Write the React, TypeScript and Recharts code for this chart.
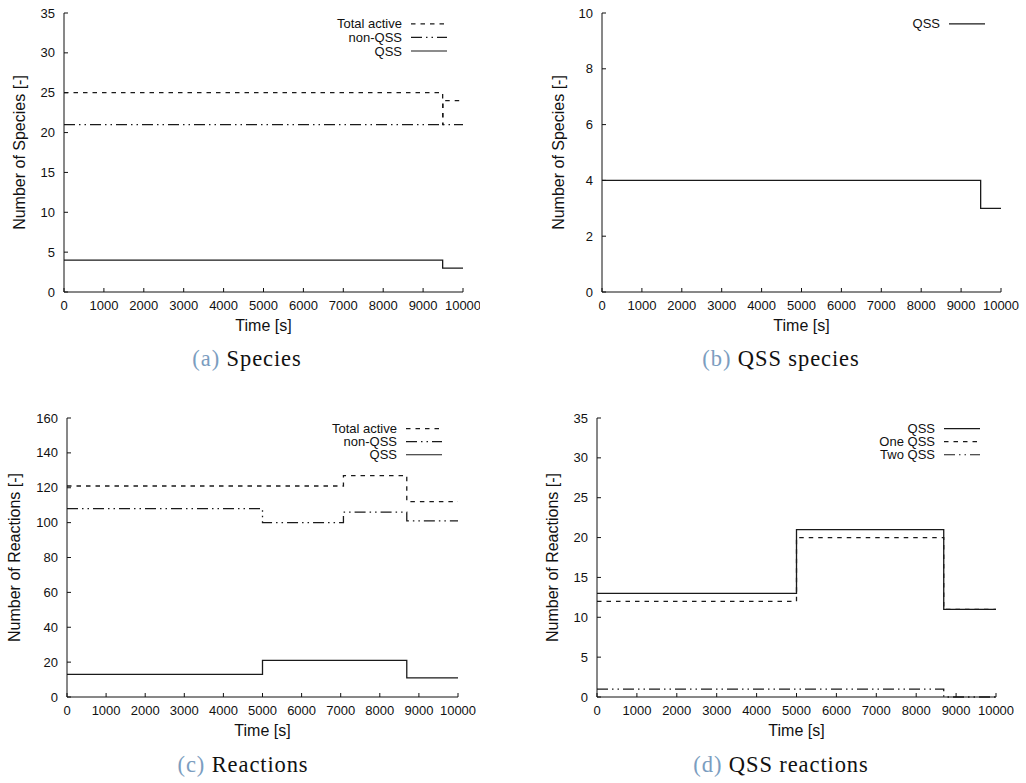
import React from 'react';
import { LineChart, Line, XAxis, YAxis, Legend } from 'recharts';

// ---------- data ----------
const timeTicks = [0, 1000, 2000, 3000, 4000, 5000, 6000, 7000, 8000, 9000, 10000];

// (a) Species
const speciesTime = [0, 9490, 9500, 10000];
const speciesTotal = [25, 21, 24, 24];
const speciesNonQss = [21, 21, 21, 21];
const speciesQss = [4, 3, 3, 3];
const speciesTicks = [0, 5, 10, 15, 20, 25, 30, 35];

// (b) QSS species
const qssSpeciesTime = [0, 9490, 10000];
const qssSpeciesQss = [4, 3, 3];
const qssSpeciesTicks = [0, 2, 4, 6, 8, 10];

// (c) Reactions
const reactionTime = [0, 5000, 7070, 8690, 10000];
const reactionTotal = [121, 121, 127, 112, 112];
const reactionNonQss = [108, 100, 106, 101, 101];
const reactionQss = [13, 21, 21, 11, 11];
const reactionTicks = [0, 20, 40, 60, 80, 100, 120, 140, 160];

// (d) QSS reactions
const qssReactionTime = [0, 5000, 8690, 10000];
const qssReactionQss = [13, 21, 11, 11];
const qssReactionOne = [12, 20, 11, 11];
const qssReactionTwo = [1, 1, 0, 0];
const qssReactionTicks = [0, 5, 10, 15, 20, 25, 30, 35];

// ---------- styling ----------
const FONT = '"Liberation Sans", Arial, Helvetica, sans-serif';
const SERIF = '"Liberation Serif", "Times New Roman", serif';
const INK = '#111';
const LINE = '#1a1a1a';
const DASHED = '4.5 5';
const DASH_DOT_DOT = '11 4 1.5 4 1.5 4';
const Y_W = 50;
const X_H = 45;
const TICK = -4;
const TICK_FS = 13;
const LEG_FS = 13;
const TITLE_FS = 16;

type SeriesDef = { key: string; name: string; dash?: string };

const table = (time: number[], cols: Record<string, number[]>) =>
  time.map((t, i) => {
    const row: Record<string, number> = { t };
    Object.keys(cols).forEach((k) => (row[k] = cols[k][i]));
    return row;
  });

const speciesData = table(speciesTime, { total: speciesTotal, nonqss: speciesNonQss, qss: speciesQss });
const qssSpeciesData = table(qssSpeciesTime, { qss: qssSpeciesQss });
const reactionData = table(reactionTime, { total: reactionTotal, nonqss: reactionNonQss, qss: reactionQss });
const qssReactionData = table(qssReactionTime, { qss: qssReactionQss, one: qssReactionOne, two: qssReactionTwo });

const speciesSeries: SeriesDef[] = [
  { key: 'total', name: 'Total active', dash: DASHED },
  { key: 'nonqss', name: 'non-QSS', dash: DASH_DOT_DOT },
  { key: 'qss', name: 'QSS' },
];
const qssSpeciesSeries: SeriesDef[] = [{ key: 'qss', name: 'QSS' }];
const reactionSeries: SeriesDef[] = speciesSeries;
const qssReactionSeries: SeriesDef[] = [
  { key: 'qss', name: 'QSS' },
  { key: 'one', name: 'One QSS', dash: DASHED },
  { key: 'two', name: 'Two QSS', dash: DASH_DOT_DOT },
];

type PanelProps = {
  left: number;
  top: number;
  width: number;
  height: number;
  plot: { l: number; t: number; r: number; b: number };
  data: Record<string, number>[];
  series: SeriesDef[];
  yDomain: [number, number];
  yTicks: number[];
  yTitle: string;
  yTitleDist: number;
  rowH: number;
};

const LEG_W = 150;

function Panel(p: PanelProps) {
  const { l, t, r, b } = p.plot;
  const margin = { top: t, left: l - Y_W, right: p.width - r, bottom: p.height - b - X_H };
  const tickStyle = { fontSize: TICK_FS, fill: INK, fontFamily: FONT };
  const legendContent = () => (
    <svg width={LEG_W} height={p.rowH * p.series.length} style={{ display: 'block', overflow: 'visible' }}>
      {p.series.map((s, i) => {
        const y = p.rowH / 2 + i * p.rowH;
        return (
          <g key={s.key}>
            <text x={LEG_W - 45} y={y} textAnchor="end" dominantBaseline="central" fontFamily={FONT} fontSize={LEG_FS} fill={INK}>
              {s.name}
            </text>
            <line x1={LEG_W - 36} x2={LEG_W} y1={y} y2={y} stroke={LINE} strokeWidth={1.2} strokeDasharray={s.dash} />
          </g>
        );
      })}
    </svg>
  );
  return (
    <div style={{ position: 'absolute', left: p.left, top: p.top, width: p.width, height: p.height, overflow: 'hidden' }}>
      <LineChart width={p.width} height={p.height} data={p.data} margin={margin}>
        <XAxis
          xAxisId="bottom"
          dataKey="t"
          type="number"
          domain={[0, 10000]}
          ticks={timeTicks}
          interval={0}
          height={X_H}
          tickSize={TICK}
          tickMargin={13}
          tick={tickStyle}
          axisLine={{ stroke: INK, strokeWidth: 1 }}
          tickLine={{ stroke: INK, strokeWidth: 1 }}
          label={(props: any) => {
            const vb = props.viewBox;
            return (
              <text x={vb.x + vb.width / 2} y={vb.y + 33} textAnchor="middle" dominantBaseline="central" fontFamily={FONT} fontSize={TITLE_FS} fill={INK}>
                Time [s]
              </text>
            );
          }}
        />
        <XAxis
          xAxisId="top"
          dataKey="t"
          type="number"
          orientation="top"
          domain={[0, 10000]}
          ticks={timeTicks}
          interval={0}
          height={0}
          tickSize={TICK}
          tick={false}
          axisLine={{ stroke: INK, strokeWidth: 1 }}
          tickLine={{ stroke: INK, strokeWidth: 1 }}
        />
        <YAxis
          yAxisId="left"
          type="number"
          domain={p.yDomain}
          ticks={p.yTicks}
          interval={0}
          width={Y_W}
          tickSize={TICK}
          tickMargin={13}
          tick={tickStyle}
          axisLine={{ stroke: INK, strokeWidth: 1 }}
          tickLine={{ stroke: INK, strokeWidth: 1 }}
          label={(props: any) => {
            const vb = props.viewBox;
            const cx = vb.x + vb.width - p.yTitleDist;
            const cy = vb.y + vb.height / 2;
            return (
              <text x={cx} y={cy} transform={`rotate(-90 ${cx} ${cy})`} textAnchor="middle" dominantBaseline="central" fontFamily={FONT} fontSize={TITLE_FS} fill={INK}>
                {p.yTitle}
              </text>
            );
          }}
        />
        <YAxis
          yAxisId="right"
          type="number"
          orientation="right"
          domain={p.yDomain}
          ticks={p.yTicks}
          interval={0}
          width={0}
          tickSize={TICK}
          tick={false}
          axisLine={{ stroke: INK, strokeWidth: 1 }}
          tickLine={{ stroke: INK, strokeWidth: 1 }}
        />
        <Legend
          layout="horizontal"
          align="center"
          verticalAlign="middle"
          wrapperStyle={{ top: t + 10.5 - p.rowH / 2, left: r - 16 - LEG_W, width: LEG_W, right: 'auto', bottom: 'auto' }}
          content={legendContent}
        />
        {p.series.map((s) => (
          <Line
            key={s.key}
            xAxisId="bottom"
            yAxisId="left"
            type="stepAfter"
            dataKey={s.key}
            name={s.name}
            stroke={LINE}
            strokeWidth={1.3}
            strokeDasharray={s.dash}
            dot={false}
            activeDot={false}
            isAnimationActive={false}
          />
        ))}
      </LineChart>
    </div>
  );
}

function Caption({ cx, top, letter, text }: { cx: number; top: number; letter: string; text: string }) {
  return (
    <div
      style={{
        position: 'absolute',
        left: cx - 150,
        top,
        width: 300,
        textAlign: 'center',
        fontFamily: SERIF,
        fontSize: 22.5,
        lineHeight: '22px',
        color: INK,
        whiteSpace: 'nowrap',
        letterSpacing: 0.9,
      }}
    >
      <span style={{ color: '#7b9dc0' }}>({letter})</span> {text}
    </div>
  );
}

export default function App() {
  return (
    <div style={{ position: 'absolute', left: 0, top: 0, width: 1026, height: 783, background: '#fff' }}>
      <Panel
        left={0}
        top={0}
        width={480}
        height={345}
        plot={{ l: 64, t: 13, r: 463, b: 292 }}
        data={speciesData}
        series={speciesSeries}
        yDomain={[0, 35]}
        yTicks={speciesTicks}
        yTitle="Number of Species [-]"
        yTitleDist={45}
        rowH={13.6}
      />
      <Panel
        left={520}
        top={0}
        width={506}
        height={345}
        plot={{ l: 82, t: 13, r: 481, b: 292 }}
        data={qssSpeciesData}
        series={qssSpeciesSeries}
        yDomain={[0, 10]}
        yTicks={qssSpeciesTicks}
        yTitle="Number of Species [-]"
        yTitleDist={44}
        rowH={13.6}
      />
      <Panel
        left={0}
        top={400}
        width={480}
        height={345}
        plot={{ l: 67, t: 18, r: 458, b: 297 }}
        data={reactionData}
        series={reactionSeries}
        yDomain={[0, 160]}
        yTicks={reactionTicks}
        yTitle="Number of Reactions [-]"
        yTitleDist={53}
        rowH={13.1}
      />
      <Panel
        left={520}
        top={400}
        width={506}
        height={345}
        plot={{ l: 77, t: 18, r: 476, b: 297 }}
        data={qssReactionData}
        series={qssReactionSeries}
        yDomain={[0, 35]}
        yTicks={qssReactionTicks}
        yTitle="Number of Reactions [-]"
        yTitleDist={45}
        rowH={13.1}
      />
      <Caption cx={247} top={348} letter="a" text="Species" />
      <Caption cx={781} top={348} letter="b" text="QSS species" />
      <Caption cx={243} top={754} letter="c" text="Reactions" />
      <Caption cx={781} top={754} letter="d" text="QSS reactions" />
    </div>
  );
}
